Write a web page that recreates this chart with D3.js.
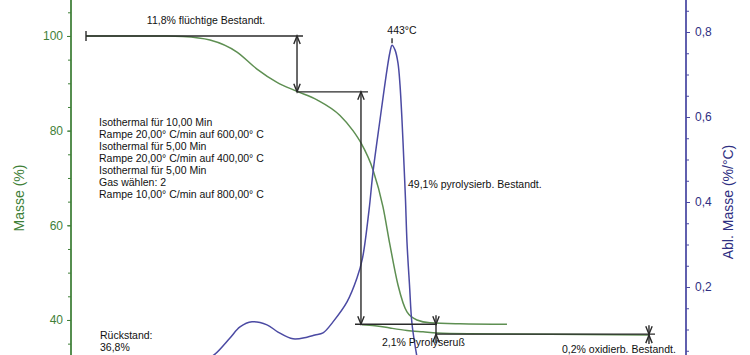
<!DOCTYPE html>
<html><head><meta charset="utf-8">
<script src="https://cdn.jsdelivr.net/npm/d3@7"></script>
<style>
html,body{margin:0;padding:0;background:#fff;}
svg{display:block;font-family:"Liberation Sans",Arial,sans-serif;}
</style></head>
<body><svg id="c" width="750" height="355"></svg>
<script>
// ---- data ----
const massTime   = [2.44,15.61,18.21,22.60,26.99,30.24,33.50,36.75,40.00,43.74,45.85,47.15,49.11,50.73,51.87,53.17,54.63,56.26,58.37,63.25,70.89];
const massValues = [100.0,100.0,99.9,99.15,96.6,93.0,90.2,88.3,86.5,83.2,80.0,77.4,71.7,63.9,55.8,47.4,41.7,40.0,39.4,39.2,39.1];
const sootTime   = [47.32,49.43,51.87,54.63,57.24,59.51,64.88,77.89,93.98];
const sootValues = [39.0,38.8,38.3,37.8,37.5,37.25,37.1,37.0,36.8];
const dtgTime    = [21.79,23.41,25.85,27.48,29.43,31.87,33.66,36.10,38.37,39.67,40.98,42.60,44.88,46.50,47.40,48.46,49.11,50.24,51.38,51.87,52.20,52.68,53.17,53.50,53.82,54.15,54.39,54.63,55.04,55.45,56.26];
const dtgValues  = [0.028,0.042,0.080,0.106,0.118,0.111,0.094,0.078,0.082,0.087,0.092,0.118,0.165,0.221,0.268,0.381,0.471,0.593,0.711,0.753,0.769,0.758,0.727,0.675,0.593,0.487,0.405,0.306,0.205,0.113,0.035];
const massTicks  = [40,60,80,100];
const massMinor  = d3.range(35,106,5);
const dtgTicks   = [0.2,0.4,0.6,0.8];
const dtgMinor   = d3.range(0.05,0.86,0.05);
const stepLevels = [100,88.2,39.1,37.0,36.8];
const programText = ["Isothermal für 10,00 Min","Rampe 20,00° C/min auf 600,00° C","Isothermal für 5,00 Min","Rampe 20,00° C/min auf 400,00° C","Isothermal für 5,00 Min","Gas wählen: 2","Rampe 10,00° C/min auf 800,00° C"];

// ---- scales ----
const svg = d3.select("#c");
const x = d3.scaleLinear().domain([0,100]).range([71,686]);
const yM = d3.scaleLinear().domain([107.6,32.6]).range([0,355]);
const yD = d3.scaleLinear().domain([0.8753,0.04]).range([0,355]);

const green="#3f7f38", greenCurve="#5e8f52", blue="#4b4aa3", blueDark="#2f2f82", ink="#2a2a2a";

// ---- axes ----
const gl = svg.append("g").attr("transform","translate(71,0)");
gl.append("g").call(d3.axisLeft(yM).tickValues(massMinor).tickSize(3).tickFormat(""));
gl.append("g").call(d3.axisLeft(yM).tickValues(massTicks).tickSize(4).tickPadding(4).tickFormat(d3.format("d")));
gl.selectAll("path.domain").attr("stroke",green).attr("stroke-width",1.3).attr("d","M0,0V355");
gl.selectAll("line").attr("stroke",green);
gl.selectAll("text").attr("fill",green).attr("font-size","12px").attr("font-family","Liberation Sans, Arial, sans-serif");

const gr = svg.append("g").attr("transform","translate(686,0)");
gr.append("g").call(d3.axisRight(yD).tickValues(dtgMinor).tickSize(3).tickFormat(""));
gr.append("g").call(d3.axisRight(yD).tickValues(dtgTicks).tickSize(4).tickPadding(5).tickFormat(d=>d3.format(".1f")(d).replace(".",",")));
gr.selectAll("path.domain").attr("stroke",blue).attr("stroke-width",1.3).attr("d","M0,0V355");
gr.selectAll("line").attr("stroke",blue);
gr.selectAll("text").attr("fill",blueDark).attr("font-size","12px").attr("font-family","Liberation Sans, Arial, sans-serif");

svg.append("text").attr("transform","translate(24,198) rotate(-90)").attr("text-anchor","middle")
  .attr("fill",green).attr("font-size","14px").text("Masse (%)");
svg.append("text").attr("transform","translate(733,202) rotate(-90)").attr("text-anchor","middle")
  .attr("fill",blueDark).attr("font-size","14px").text("Abl. Masse (%/°C)");

// ---- curves ----
const lineM = d3.line().x(d=>x(d[0])).y(d=>yM(d[1])).curve(d3.curveMonotoneX);
const lineD = d3.line().x(d=>x(d[0])).y(d=>yD(d[1])).curve(d3.curveCatmullRom);
svg.append("defs").append("clipPath").attr("id","clip").append("rect").attr("x",71).attr("y",0).attr("width",615).attr("height",355);

svg.append("path").datum(d3.zip(sootTime,sootValues)).attr("d",lineM).attr("fill","none").attr("stroke",greenCurve).attr("stroke-width",1.5);
svg.append("path").datum(d3.zip(massTime,massValues)).attr("d",lineM).attr("fill","none").attr("stroke",greenCurve).attr("stroke-width",1.5);
svg.append("path").datum(d3.zip(dtgTime,dtgValues)).attr("d",lineD).attr("clip-path","url(#clip)").attr("fill","none").attr("stroke",blue).attr("stroke-width",1.5);

// ---- annotation lines ----
const ann = svg.append("g").attr("stroke",ink).attr("stroke-width",1.4).attr("fill","none");
function hline(x0,x1,v){ann.append("line").attr("x1",x(x0)).attr("x2",x(x1)).attr("y1",yM(v)).attr("y2",yM(v));}
function head(px,py,dir){ // dir -1 pointing up, +1 pointing down
  ann.append("path").attr("d",`M${px-3.2},${py-dir*8}L${px},${py}L${px+3.2},${py-dir*8}`);
}
function arrowOut(xv,v0,v1){
  const px=x(xv), a=yM(v0), b=yM(v1);
  ann.append("line").attr("x1",px).attr("x2",px).attr("y1",a).attr("y2",b);
  head(px,a,-1); head(px,b,1);
}
function arrowIn(xv,v0,v1){
  const px=x(xv), a=yM(v0), b=yM(v1);
  ann.append("line").attr("x1",px).attr("x2",px).attr("y1",a-9).attr("y2",b+9);
  head(px,a,1); head(px,b,-1);
}
hline(2.44,37.72,stepLevels[0]);
ann.append("line").attr("x1",x(2.44)).attr("x2",x(2.44)).attr("y1",yM(100)-5).attr("y2",yM(100)+5);
arrowOut(36.75,stepLevels[0],stepLevels[1]);
hline(36.75,48.29,stepLevels[1]);
arrowOut(47.15,stepLevels[1],stepLevels[2]);
hline(46.18,59.51,stepLevels[2]);
arrowIn(59.35,stepLevels[2],stepLevels[3]);
hline(59.35,94.96,stepLevels[3]);
arrowIn(93.98,stepLevels[3],stepLevels[4]);
const peakI = d3.maxIndex(dtgValues);
ann.append("line").attr("x1",x(dtgTime[peakI])).attr("x2",x(dtgTime[peakI])).attr("y1",yD(dtgValues[peakI])-7).attr("y2",yD(dtgValues[peakI])-2);

// ---- texts ----
const t = svg.append("g").attr("fill","#111").attr("font-size","10.5px");
t.append("text").attr("x",206).attr("y",24).attr("text-anchor","middle").text("11,8% flüchtige Bestandt.");
t.append("text").attr("x",402).attr("y",34).attr("text-anchor","middle").text("443°C");
t.append("text").attr("x",408).attr("y",188).text("49,1% pyrolysierb. Bestandt.");
t.append("text").attr("x",382).attr("y",346).text("2,1% Pyrolyseruß");
t.append("text").attr("x",562).attr("y",352.5).text("0,2% oxidierb. Bestandt.");
t.append("text").attr("x",100).attr("y",339).text("Rückstand:");
t.append("text").attr("x",100).attr("y",351).text("36,8%");
programText.forEach((s,i)=>t.append("text").attr("x",99).attr("y",126+i*12).text(s));
</script></body></html>
